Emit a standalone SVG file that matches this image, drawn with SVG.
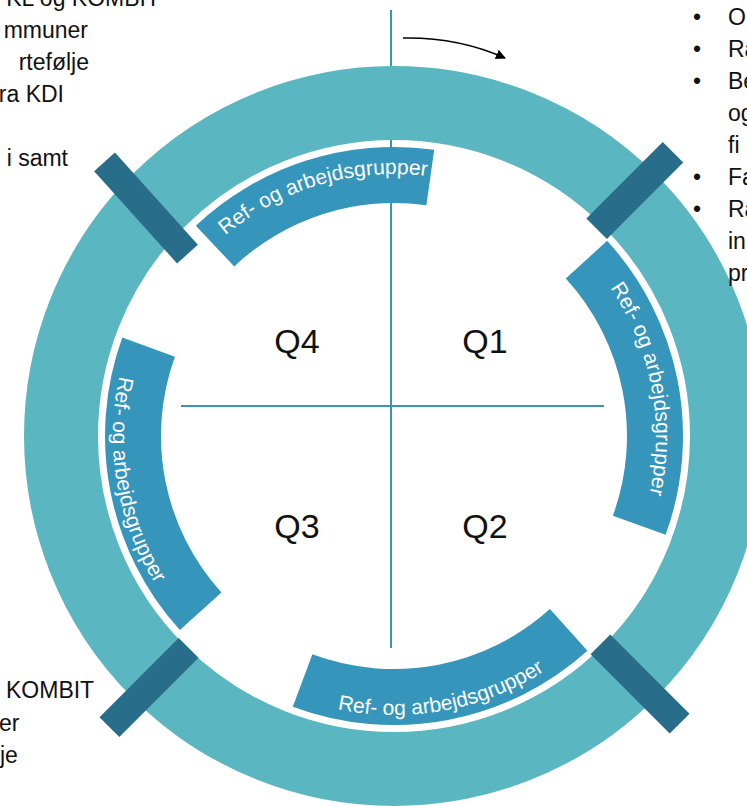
<svg xmlns="http://www.w3.org/2000/svg" width="747" height="806" viewBox="0 0 747 806">
<defs>
<style>
.txt{font-family:"Liberation Sans",Arial,sans-serif;font-size:23px;fill:#111}
.q{font-family:"Liberation Sans",Arial,sans-serif;font-size:34px;fill:#111;text-anchor:middle}
.band{fill:#3595BB}
.bar{fill:#286E8A}
.arc{font-family:"Liberation Sans",Arial,sans-serif;font-size:21px;fill:#fff}
.axis{stroke:#3A93BF;stroke-width:2;fill:none}
</style>
<marker id="ah" viewBox="0 0 10 10" refX="9" refY="5" markerWidth="10" markerHeight="10" markerUnits="userSpaceOnUse" orient="auto">
<path d="M0,0 L10,5 L0,10 Z" fill="#000"/>
</marker>
<path id="tp-top" d="M175.8,291 A262,262 0 0 1 498.9,195.9"/>
<path id="tp-right" d="M559.6,233 A262,262 0 0 1 622.7,563.8"/>
<path id="tp-bottom" d="M256.6,678.8 A279,279 0 0 0 609.3,613.5"/>
<path id="tp-left" d="M151.4,294.2 A281,281 0 0 0 212.2,650.3"/>
</defs>
<rect width="747" height="806" fill="#fff"/>

<g id="connectors">
<line class="axis" x1="391" y1="10" x2="391" y2="648"/>
<line class="axis" x1="181" y1="406" x2="604" y2="406"/>
<path d="M403,38 Q458,37 505,58" fill="none" stroke="#000" stroke-width="1.6" marker-end="url(#ah)"/>
</g>

<g id="ring">
<circle cx="394" cy="436" r="333" fill="none" stroke="#5AB6C0" stroke-width="74"/>
</g>

<g id="bars">
<rect class="bar" x="-54" y="-14.5" width="108" height="29" transform="translate(634.8,190.5) rotate(-45)"/>
<rect class="bar" x="-62" y="-14" width="124" height="28" transform="translate(146,208) rotate(48)"/>
<rect class="bar" x="-56" y="-14" width="112" height="28" transform="translate(149,687.5) rotate(-45)"/>
<rect class="bar" x="-56" y="-14" width="112" height="28" transform="translate(640,684) rotate(45)"/>
</g>

<g id="band-top">
<path class="band" d="M195.8,225.7 A289,289 0 0 1 434.2,149.8 L426.4,205.3 A233,233 0 0 0 234.2,266.4 Z"/>
<text class="arc"><textPath href="#tp-top" startOffset="50%" text-anchor="middle">Ref- og arbejdsgrupper</textPath></text>
</g>
<g id="band-right">
<path class="band" d="M607.1,240.8 A289,289 0 0 1 665.6,534.8 L612.9,515.7 A233,233 0 0 0 565.8,278.6 Z"/>
<text class="arc"><textPath href="#tp-right" startOffset="50%" text-anchor="middle">Ref- og arbejdsgrupper</textPath></text>
</g>
<g id="band-bottom">
<path class="band" d="M587.4,650.8 A289,289 0 0 1 292.8,706.7 L312.4,654.3 A233,233 0 0 0 549.9,609.1 Z"/>
<text class="arc"><textPath href="#tp-bottom" startOffset="50%" text-anchor="middle">Ref- og arbejdsgrupper</textPath></text>
</g>
<g id="band-left">
<path class="band" d="M179.9,630.1 A289,289 0 0 1 122.3,337.6 L174.9,356.7 A233,233 0 0 0 221.4,592.5 Z"/>
<text class="arc"><textPath href="#tp-left" startOffset="50%" text-anchor="middle">Ref- og arbejdsgrupper</textPath></text>
</g>

<g id="q1"><text class="q" x="485" y="353">Q1</text></g>
<g id="q2"><text class="q" x="485" y="538">Q2</text></g>
<g id="q3"><text class="q" x="297" y="538">Q3</text></g>
<g id="q4"><text class="q" x="297" y="353">Q4</text></g>

<g id="text-topleft" class="txt" text-anchor="end">
<text x="160" y="6">KL og KOMBIT</text>
<text x="88" y="38">mmuner</text>
<text x="89" y="70">rtefølje</text>
<text x="64" y="102">ra KDI</text>
<text x="68" y="166">i samt</text>
</g>

<g id="text-bottomleft" class="txt">
<text x="6" y="698">KOMBIT</text>
<text x="-1" y="731">er</text>
<text x="0" y="763">je</text>
</g>

<g id="text-topright" class="txt">
<text x="693" y="25">•</text><text x="728" y="25">O</text>
<text x="693" y="57">•</text><text x="728" y="57">Ra</text>
<text x="693" y="89">•</text><text x="728" y="89">Be</text>
<text x="728" y="121">og</text>
<text x="728" y="153">fi</text>
<text x="693" y="185">•</text><text x="728" y="185">Fa</text>
<text x="693" y="217">•</text><text x="728" y="217">Ra</text>
<text x="728" y="249">in</text>
<text x="728" y="281">pr</text>
</g>
</svg>
